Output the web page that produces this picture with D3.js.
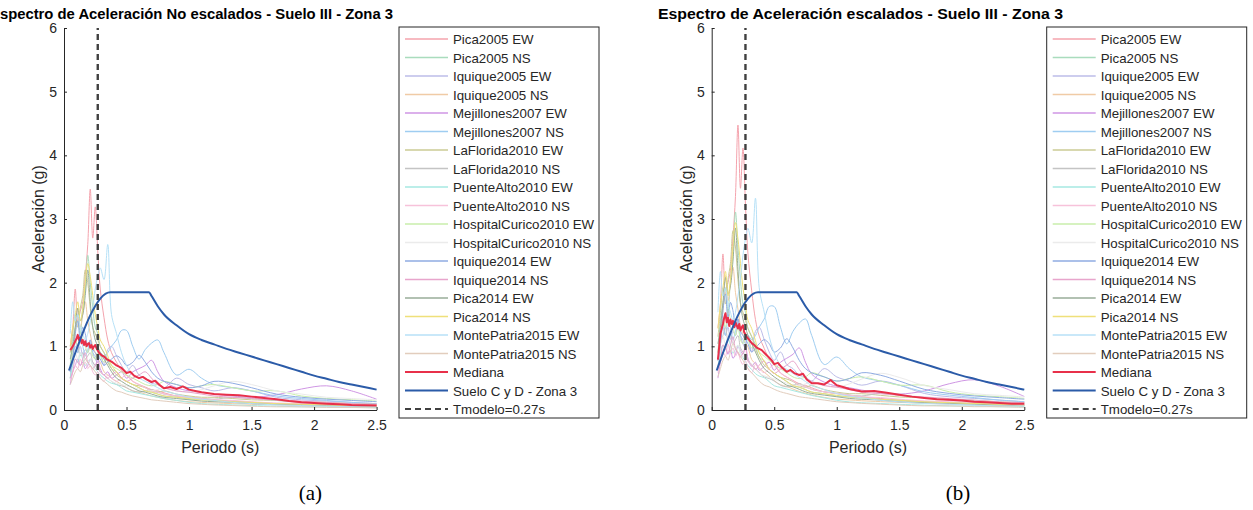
<!DOCTYPE html>
<html>
<head>
<meta charset="utf-8">
<script src="https://cdn.jsdelivr.net/npm/d3@7"></script>
<style>
  body { margin: 0; background: #fff; }
  svg { display: block; }
  text { font-family: "Liberation Sans", Arial, sans-serif; fill: #262626; }
</style>
</head>
<body>
<svg id="chart" width="1253" height="510"></svg>
<script>
// Periods (s) at which each record's spectral acceleration is listed
const periods = [0.05,0.07,0.09,0.11,0.13,0.15,0.17,0.19,0.21,0.23,0.25,0.27,0.29,0.32,0.35,0.38,0.42,0.46,0.5,0.55,0.6,0.65,0.7,0.75,0.8,0.9,1.0,1.1,1.2,1.35,1.5,1.7,1.9,2.1,2.3,2.5];

// Unscaled acceleration spectra (g), one array per record component
const pica2005EW = [1.0,1.3,1.9,1.4,1.55,1.7,2.1,2.6,3.47,2.7,3.19,2.5,1.9,1.45,1.1,0.9,0.75,0.62,0.55,0.45,0.4,0.36,0.32,0.3,0.27,0.22,0.2,0.18,0.16,0.14,0.12,0.1,0.09,0.08,0.07,0.06];
const pica2005NS = [0.7,1.1,1.3,1.5,1.2,1.6,1.9,2.43,2.0,1.6,1.3,1.2,1.0,0.9,0.8,0.65,0.6,0.5,0.45,0.4,0.35,0.3,0.28,0.25,0.22,0.2,0.17,0.16,0.15,0.13,0.12,0.1,0.09,0.08,0.07,0.07];
const iquique2005EW = [0.6,0.9,1.1,0.9,1.0,0.85,0.95,0.9,1.1,0.9,0.8,0.75,0.9,0.7,0.95,1.0,0.85,0.7,0.6,0.7,0.55,0.5,0.42,0.4,0.35,0.5,0.4,0.35,0.3,0.35,0.3,0.2,0.16,0.14,0.12,0.1];
const iquique2005NS = [0.5,0.8,1.2,1.6,1.3,1.5,1.7,1.4,1.2,1.0,0.9,0.8,0.75,0.6,0.55,0.5,0.45,0.4,0.35,0.3,0.28,0.25,0.22,0.2,0.18,0.15,0.13,0.12,0.11,0.1,0.09,0.08,0.07,0.06,0.05,0.05];
const mejillones2007EW = [0.4,0.6,0.7,0.8,0.7,0.75,0.65,0.7,0.8,0.75,0.7,0.8,0.65,0.55,0.6,0.5,0.55,0.6,0.5,0.6,0.65,0.7,0.78,0.6,0.45,0.35,0.3,0.28,0.25,0.22,0.2,0.24,0.33,0.38,0.3,0.17];
const mejillones2007NS = [0.5,0.8,1.0,0.9,1.1,1.0,0.85,0.95,1.05,0.9,0.85,0.8,0.9,0.85,0.9,1.0,1.1,1.25,1.25,1.0,0.8,0.95,1.05,1.1,0.9,0.55,0.64,0.5,0.4,0.35,0.3,0.22,0.18,0.15,0.12,0.1];
const laFlorida2010EW = [0.9,1.2,1.5,1.3,1.6,1.8,2.2,2.0,1.6,1.3,1.2,1.1,1.0,0.9,0.75,0.65,0.55,0.5,0.45,0.4,0.38,0.35,0.3,0.28,0.3,0.25,0.22,0.2,0.2,0.18,0.16,0.15,0.13,0.12,0.1,0.09];
const laFlorida2010NS = [0.6,0.8,0.9,1.0,0.85,0.9,0.8,0.85,0.9,0.75,0.7,0.65,0.6,0.55,0.5,0.45,0.4,0.38,0.35,0.3,0.28,0.3,0.32,0.28,0.25,0.22,0.2,0.18,0.17,0.2,0.18,0.15,0.12,0.1,0.09,0.08];
const puenteAlto2010EW = [0.5,0.7,0.8,0.75,0.9,0.8,0.7,0.75,0.8,0.7,0.65,0.6,0.55,0.5,0.45,0.42,0.4,0.35,0.3,0.28,0.26,0.24,0.22,0.2,0.18,0.15,0.12,0.1,0.09,0.08,0.07,0.06,0.05,0.05,0.04,0.04];
const puenteAlto2010NS = [0.45,0.6,0.7,0.65,0.8,0.7,0.75,0.65,0.7,0.6,0.55,0.6,0.5,0.45,0.55,0.5,0.45,0.5,0.55,0.45,0.4,0.35,0.3,0.28,0.25,0.22,0.2,0.18,0.16,0.15,0.13,0.11,0.1,0.09,0.08,0.07];
const hospitalCurico2010EW = [0.7,0.9,1.1,1.0,1.2,1.1,1.0,0.9,1.0,0.85,0.8,0.9,0.85,0.75,0.8,0.7,0.65,0.6,0.55,0.5,0.45,0.4,0.38,0.4,0.45,0.4,0.35,0.38,0.4,0.35,0.3,0.3,0.22,0.18,0.16,0.14];
const hospitalCurico2010NS = [0.6,0.8,0.9,0.8,0.9,0.85,0.8,0.75,0.8,0.7,0.65,0.7,0.6,0.55,0.5,0.45,0.42,0.4,0.38,0.35,0.33,0.3,0.3,0.32,0.35,0.3,0.28,0.32,0.38,0.45,0.4,0.3,0.25,0.2,0.18,0.16];
const iquique2014EW = [0.6,0.8,1.2,1.4,1.1,1.3,1.2,1.0,1.1,0.95,0.9,0.85,0.8,0.7,0.75,0.8,0.85,0.8,0.7,0.75,0.86,0.75,0.6,0.5,0.45,0.4,0.35,0.38,0.45,0.42,0.35,0.25,0.2,0.17,0.15,0.13];
const iquique2014NS = [0.5,0.6,0.8,0.75,0.7,0.8,0.9,0.75,0.7,0.65,0.7,0.75,0.6,0.55,0.5,0.55,0.6,0.5,0.45,0.5,0.55,0.6,0.5,0.4,0.35,0.3,0.28,0.25,0.22,0.2,0.18,0.16,0.14,0.12,0.1,0.09];
const pica2014EW = [0.8,1.0,1.3,1.6,1.4,1.5,1.8,2.2,1.7,1.3,1.1,1.0,0.9,0.8,0.7,0.6,0.5,0.45,0.4,0.35,0.3,0.28,0.25,0.22,0.2,0.18,0.16,0.14,0.13,0.12,0.1,0.09,0.08,0.07,0.06,0.05];
const pica2014NS = [1.0,1.3,1.5,1.7,1.4,1.6,2.0,2.3,2.1,1.8,1.5,1.3,1.1,1.0,0.85,0.7,0.6,0.5,0.45,0.4,0.35,0.3,0.28,0.25,0.22,0.2,0.18,0.16,0.15,0.13,0.12,0.1,0.09,0.08,0.07,0.06];
const montePatria2015EW = [1.2,1.7,1.4,1.5,1.3,1.2,1.1,1.2,1.4,1.6,1.9,2.1,2.23,2.05,2.6,1.5,1.2,0.9,0.7,0.55,0.5,0.45,0.4,0.35,0.3,0.25,0.2,0.17,0.15,0.12,0.1,0.08,0.07,0.06,0.05,0.05];
const montePatria2015NS = [0.4,0.5,0.6,0.65,0.6,0.7,0.8,0.75,0.7,0.65,0.6,0.55,0.5,0.45,0.4,0.35,0.3,0.28,0.25,0.22,0.2,0.18,0.16,0.15,0.14,0.12,0.1,0.09,0.08,0.07,0.06,0.05,0.05,0.04,0.04,0.03];

const recordNames = ["Pica2005 EW","Pica2005 NS","Iquique2005 EW","Iquique2005 NS","Mejillones2007 EW","Mejillones2007 NS","LaFlorida2010 EW","LaFlorida2010 NS","PuenteAlto2010 EW","PuenteAlto2010 NS","HospitalCurico2010 EW","HospitalCurico2010 NS","Iquique2014 EW","Iquique2014 NS","Pica2014 EW","Pica2014 NS","MontePatria2015 EW","MontePatria2015 NS"];
const recordSpectra = [pica2005EW,pica2005NS,iquique2005EW,iquique2005NS,mejillones2007EW,mejillones2007NS,laFlorida2010EW,laFlorida2010NS,puenteAlto2010EW,puenteAlto2010NS,hospitalCurico2010EW,hospitalCurico2010NS,iquique2014EW,iquique2014NS,pica2014EW,pica2014NS,montePatria2015EW,montePatria2015NS];
const recordColors = ["#f4a3ad","#a9dcbd","#bcbce8","#f0cba6","#cf96e4","#9fcdf1","#cbcb94","#c4c4c4","#a6e9e2","#f7c2da","#c9eeab","#ebebeb","#8fabe2","#e8a5cc","#98ad98","#efe07a","#b7e1f7","#e2cdbd"];

// Amplitude scale factor applied to each record
const scaleFactors = [1.29,1.28,1.3,1.32,1.25,1.3,1.28,1.3,1.27,1.3,1.3,1.28,1.3,1.28,1.3,1.28,1.28,1.3];

// Median spectra
const medianPeriods = [0.05,0.07,0.09,0.1,0.11,0.12,0.13,0.14,0.15,0.16,0.17,0.18,0.19,0.2,0.21,0.22,0.23,0.24,0.25,0.26,0.28,0.3,0.32,0.34,0.36,0.38,0.4,0.42,0.44,0.46,0.48,0.5,0.53,0.56,0.6,0.63,0.66,0.7,0.73,0.76,0.8,0.85,0.9,0.95,1.0,1.05,1.1,1.2,1.3,1.4,1.5,1.6,1.7,1.8,1.9,2.0,2.1,2.2,2.3,2.4,2.5];
const medianUnscaled = [0.94,1.0,1.08,1.12,1.18,1.1,1.14,1.05,1.1,1.02,1.08,1.0,1.04,1.05,0.98,1.02,0.96,1.0,1.02,0.97,0.9,0.86,0.84,0.8,0.78,0.76,0.73,0.7,0.68,0.66,0.62,0.58,0.6,0.54,0.5,0.52,0.48,0.44,0.46,0.4,0.34,0.36,0.33,0.37,0.32,0.3,0.28,0.25,0.24,0.23,0.21,0.19,0.17,0.14,0.12,0.11,0.1,0.09,0.08,0.075,0.07];
const medianScaled = [0.79,1.2,1.35,1.45,1.52,1.38,1.45,1.32,1.42,1.35,1.4,1.3,1.38,1.33,1.28,1.35,1.25,1.3,1.33,1.22,1.15,1.1,1.05,1.02,0.98,0.96,0.94,0.9,0.86,0.82,0.78,0.72,0.74,0.67,0.6,0.63,0.58,0.55,0.57,0.48,0.42,0.42,0.4,0.47,0.39,0.36,0.33,0.29,0.3,0.27,0.24,0.21,0.19,0.17,0.16,0.15,0.13,0.12,0.11,0.1,0.1];

// Design spectrum, soil C and D, seismic zone 3
const designPeriods = [0.04,0.37,0.68,0.7,0.75,0.8,0.9,1.0,1.1,1.2,1.3,1.4,1.5,1.6,1.7,1.8,1.9,2.0,2.1,2.2,2.3,2.4,2.5];
const designSa = [0.62,1.85,1.85,1.79,1.63,1.5,1.33,1.19,1.1,1.03,0.96,0.9,0.84,0.78,0.72,0.66,0.6,0.54,0.49,0.44,0.4,0.36,0.32];

// Model fundamental period
const tModelo = 0.27;

const xTicks = [0, 0.5, 1, 1.5, 2, 2.5];
const yTicks = [0, 1, 2, 3, 4, 5, 6];

const svg = d3.select("#chart");

const plotW = 312.6, plotH = 382;
const plotTop = 28;

function drawPanel(left, titleText, titleStart, titleWidth, spectra, median, caption, id) {
  const x = d3.scaleLinear().domain([0, 2.5]).range([left, left + plotW]);
  const y = d3.scaleLinear().domain([0, 6]).range([plotTop + plotH, plotTop]);
  const g = svg.append("g");

  g.append("clipPath").attr("id", "clip" + id)
    .append("rect").attr("x", left).attr("y", plotTop - 1).attr("width", plotW + 1).attr("height", plotH + 1);

  const plot = g.append("g").attr("clip-path", `url(#clip${id})`);

  const recLine = d3.line()
    .x((d, i) => x(periods[i]))
    .y(d => y(d))
    .curve(d3.curveCatmullRom.alpha(0.5));

  spectra.forEach((s, k) => {
    plot.append("path").attr("d", recLine(s))
      .attr("fill", "none").attr("stroke", recordColors[k]).attr("stroke-width", 1);
  });

  const medLine = d3.line().x((d, i) => x(medianPeriods[i])).y(d => y(d));
  plot.append("path").attr("d", medLine(median))
    .attr("fill", "none").attr("stroke", "#e8304a").attr("stroke-width", 2).attr("stroke-linejoin", "round");

  const desLine = d3.line().x((d, i) => x(designPeriods[i])).y(d => y(d)).curve(d3.curveMonotoneX);
  plot.append("path").attr("d", desLine(designSa))
    .attr("fill", "none").attr("stroke", "#2b5ba8").attr("stroke-width", 2);

  plot.append("line")
    .attr("x1", x(tModelo)).attr("x2", x(tModelo))
    .attr("y1", y(0)).attr("y2", y(6))
    .attr("stroke", "#404040").attr("stroke-width", 2.4).attr("stroke-dasharray", "6,4");

  // Axes, ticks pointing inward
  const xAxis = d3.axisBottom(x).tickValues(xTicks).tickFormat(d3.format("")).tickSizeInner(-3).tickSizeOuter(0).tickPadding(10);
  const yAxis = d3.axisLeft(y).tickValues(yTicks).tickFormat(d3.format("d")).tickSizeInner(-3).tickSizeOuter(0).tickPadding(7);

  const gx = g.append("g").attr("transform", `translate(0,${plotTop + plotH})`).call(xAxis);
  const gy = g.append("g").attr("transform", `translate(${left},0)`).call(yAxis);
  [gx, gy].forEach(a => {
    a.select(".domain").attr("stroke", "#262626").attr("stroke-width", 1);
    a.selectAll(".tick line").attr("stroke", "#262626");
    a.selectAll(".tick text").attr("font-size", 14).attr("fill", "#262626")
      .style("font-family", '"Liberation Sans", Arial, sans-serif');
  });

  g.append("text").attr("x", left + plotW / 2).attr("y", 453)
    .attr("text-anchor", "middle").attr("font-size", 16).text("Periodo (s)");

  g.append("text").attr("transform", `translate(${left - 20},${plotTop + plotH / 2}) rotate(-90)`)
    .attr("text-anchor", "middle").attr("font-size", 16).text("Aceleración (g)");

  g.append("text").attr("x", titleStart).attr("y", 19)
    .attr("textLength", titleWidth).attr("lengthAdjust", "spacingAndGlyphs")
    .attr("font-size", 14.5).attr("font-weight", "bold")
    .style("fill", "#000").text(titleText);

  // Legend
  const lx = left + 335, ly = 27, lw = 200, lh = 391;
  const leg = g.append("g");
  leg.append("rect").attr("x", lx).attr("y", ly).attr("width", lw).attr("height", lh)
    .attr("fill", "#fff").attr("stroke", "#262626").attr("stroke-width", 1);

  const entries = recordNames.map((n, k) => ({ name: n, color: recordColors[k], width: 1.4, dash: null }))
    .concat([
      { name: "Mediana", color: "#e8304a", width: 2.2, dash: null },
      { name: "Suelo C y D - Zona 3", color: "#2b5ba8", width: 2.2, dash: null },
      { name: "Tmodelo=0.27s", color: "#404040", width: 2.2, dash: "6,4" }
    ]);

  entries.forEach((e, i) => {
    const cy = ly + 12 + i * 18.5;
    leg.append("line").attr("x1", lx + 6).attr("x2", lx + 49).attr("y1", cy).attr("y2", cy)
      .attr("stroke", e.color).attr("stroke-width", e.width)
      .attr("stroke-dasharray", e.dash);
    leg.append("text").attr("x", lx + 54).attr("y", cy + 5)
      .attr("font-size", 13.3).attr("fill", "#262626").text(e.name);
  });

  g.append("text").attr("x", left + plotW / 2 + 90).attr("y", 500)
    .attr("text-anchor", "middle").attr("font-size", 21)
    .style("font-family", '"Liberation Serif", "DejaVu Serif", serif').style("fill", "#000")
    .text(caption);
}

const scaledSpectra = recordSpectra.map((s, k) => s.map(v => v * scaleFactors[k]));

drawPanel(64, "Espectro de Aceleración No escalados - Suelo III - Zona 3", -10, 403, recordSpectra, medianUnscaled, "(a)", "a");
drawPanel(711.7, "Espectro de Aceleración escalados - Suelo III - Zona 3", 658, 405, scaledSpectra, medianScaled, "(b)", "b");
</script>
</body>
</html>
